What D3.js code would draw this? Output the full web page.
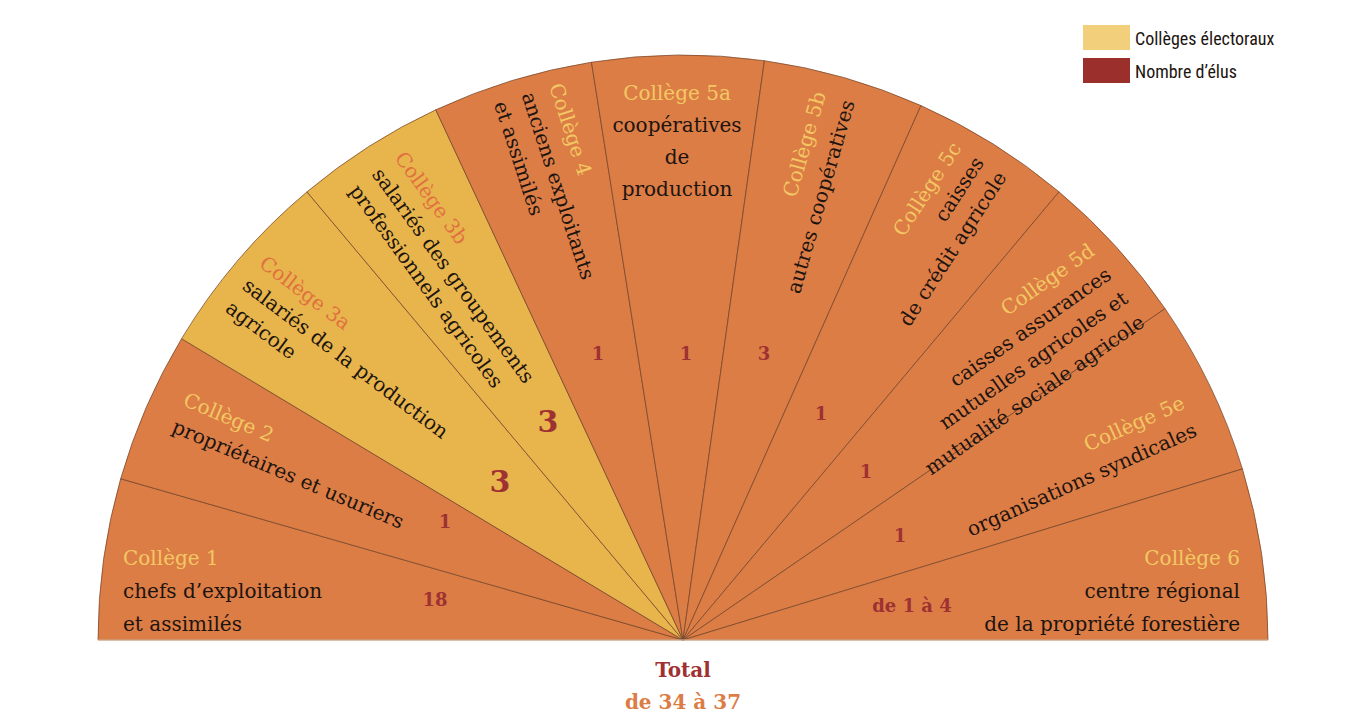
<!DOCTYPE html>
<html><head><meta charset="utf-8">
<script src="https://cdn.jsdelivr.net/npm/d3@7"></script>
<style>
body{margin:0;background:#fff}
svg{display:block}
</style></head><body>
<svg id="chart" width="1368" height="726"></svg>
<script>
// sector boundaries, degrees measured from the left end of the half disc
const bounds = [0, 16, 31, 50, 65, 81, 98, 114, 130, 145.5, 163, 180];
const colleges = ['Collège 1', 'Collège 2', 'Collège 3a', 'Collège 3b', 'Collège 4', 'Collège 5a',
  'Collège 5b', 'Collège 5c', 'Collège 5d', 'Collège 5e', 'Collège 6'];
const descriptions = [
  ['chefs d\u2019exploitation', 'et assimilés'],
  ['propriétaires et usuriers'],
  ['salariés de la production', 'agricole'],
  ['salariés des groupements', 'professionnels agricoles'],
  ['anciens exploitants', 'et assimilés'],
  ['coopératives', 'de', 'production'],
  ['autres coopératives'],
  ['caisses', 'de crédit agricole'],
  ['caisses assurances', 'mutuelles agricoles et', 'mutualité sociale agricole'],
  ['organisations syndicales'],
  ['centre régional', 'de la propriété forestière']
];
const elus = ['18', '1', '3', '3', '1', '1', '3', '1', '1', '1', 'de 1 à 4'];
const highlighted = ['Collège 3a', 'Collège 3b'];
const total = ['Total', 'de 34 à 37'];
const legendItems = ['Collèges électoraux', 'Nombre d\u2019élus'];

const ORANGE = '#dc7d46', YELLOW = '#e8b44c', LIGHT = '#f3c863', RED = '#9e3232', INK = '#1d1410';
const serif = '"DejaVu Serif", "Liberation Serif", serif';

const svg = d3.select('#chart');
const cx = 683, cy = 640, R = 585;
const toRad = d3.scaleLinear().domain([0, 180]).range([-Math.PI / 2, Math.PI / 2]);

const sectors = colleges.map((c, i) => ({
  name: c, desc: descriptions[i], elus: elus[i], a0: bounds[i], a1: bounds[i + 1]
}));

const arc = d3.arc().innerRadius(0).outerRadius(R);
const g = svg.append('g').attr('transform', `translate(${cx},${cy})`);
g.selectAll('path').data(sectors).join('path')
  .attr('d', d => arc({ startAngle: toRad(d.a0), endAngle: toRad(d.a1) }))
  .attr('fill', d => highlighted.includes(d.name) ? YELLOW : ORANGE)
  .attr('stroke', '#6e4026').attr('stroke-width', 0.7);
g.append('line').attr('x1', -R).attr('x2', R).attr('y1', 0).attr('y2', 0)
  .attr('stroke', '#e9c3a4').attr('stroke-width', 1.2);

// label layout per sector: rotation, anchor, first line position, line spacing, number position
const layout = [
  { rot: 0, anchor: 'start', x: 123, y: 565, lh: 33, nx: 435, ny: 606, ns: 18 },
  { rot: 23, anchor: 'start', x: 182, y: 405, lh: 29, nx: 445, ny: 528, ns: 18 },
  { rot: 37, anchor: 'start', x: 258, y: 266, lh: 28, nx: 500, ny: 492, ns: 30 },
  { rot: 54, anchor: 'start', x: 394, y: 158, lh: 28, nx: 548, ny: 432, ns: 30 },
  { rot: 72, anchor: 'start', x: 549, y: 86, lh: 29, nx: 598, ny: 360, ns: 18 },
  { rot: 0, anchor: 'middle', x: 677, y: 100, lh: 32, nx: 686, ny: 360, ns: 18 },
  { rot: -74, anchor: 'end', x: 826, y: 94, lh: 30, nx: 764, ny: 360, ns: 18 },
  { rot: -57, anchor: 'end', x: 962, y: 148, lh: 27, nx: 821, ny: 420, ns: 18 },
  { rot: -35, anchor: 'end', x: 1096, y: 254, lh: 29, nx: 866, ny: 478, ns: 18 },
  { rot: -24, anchor: 'end', x: 1186, y: 408, lh: 30, nx: 900, ny: 542, ns: 18 },
  { rot: 0, anchor: 'end', x: 1240, y: 565, lh: 33, nx: 912, ny: 612, ns: 18 }
];

sectors.forEach((s, i) => {
  const L = layout[i];
  const t = svg.append('g').attr('transform', `translate(${L.x},${L.y}) rotate(${L.rot})`)
    .attr('font-family', serif).attr('text-anchor', L.anchor);
  t.append('text').attr('y', 0).attr('font-size', 20)
    .attr('fill', highlighted.includes(s.name) ? '#e0703f' : LIGHT).text(s.name);
  s.desc.forEach((line, j) => {
    t.append('text').attr('y', (j + 1) * L.lh).attr('font-size', 20).attr('fill', INK).text(line);
  });
  svg.append('text').attr('x', L.nx).attr('y', L.ny).attr('text-anchor', 'middle')
    .attr('font-family', serif).attr('font-weight', 'bold').attr('font-size', L.ns)
    .attr('fill', RED).text(s.elus);
});

svg.append('text').attr('x', cx).attr('y', 677).attr('text-anchor', 'middle')
  .attr('font-family', serif).attr('font-weight', 'bold').attr('font-size', 20).attr('fill', RED).text(total[0]);
svg.append('text').attr('x', cx).attr('y', 709).attr('text-anchor', 'middle')
  .attr('font-family', serif).attr('font-weight', 'bold').attr('font-size', 20).attr('fill', ORANGE).text(total[1]);

const leg = svg.append('g').attr('transform', 'translate(1083,25)');
leg.selectAll('rect').data(legendItems).join('rect')
  .attr('x', 0).attr('y', (d, i) => i * 33).attr('width', 47).attr('height', 25)
  .attr('fill', (d, i) => i ? '#9a2f2c' : '#f2cf7a');
leg.selectAll('text').data(legendItems).join('text')
  .attr('x', 52).attr('y', (d, i) => i * 33 + 20)
  .attr('font-family', '"Liberation Sans Narrow", "Roboto Condensed", Roboto, sans-serif')
  .attr('font-size', 18).attr('fill', INK).text(d => d);
</script>
</body></html>
